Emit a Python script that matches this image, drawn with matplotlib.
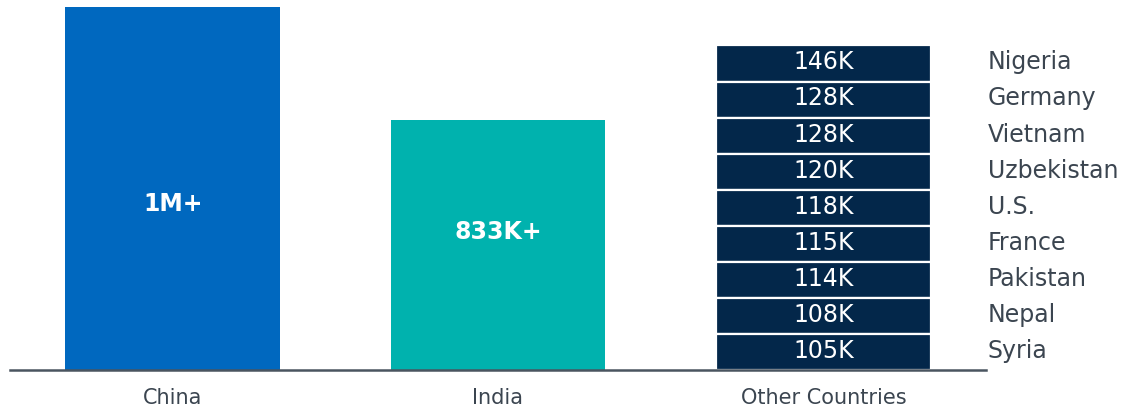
import matplotlib
matplotlib.use("Agg")
from matplotlib import pyplot as plt
import numpy as np

# data (thousands)
categories = ['China', 'India', 'Other Countries']
main_values = [1210, 833]
main_labels = ['1M+', '833K+']
main_colors = ['#0068BF', '#00B2AE']

other_countries = ['Nigeria', 'Germany', 'Vietnam', 'Uzbekistan', 'U.S.',
                   'France', 'Pakistan', 'Nepal', 'Syria']
other_values = [146, 128, 128, 120, 118, 115, 114, 108, 105]
other_color = '#03274A'
text_gray = '#3B4550'

fig = plt.figure(figsize=(11.21, 4.10), dpi=100)
ax = fig.add_axes([10 / 1121, 39 / 410, 976 / 1121, 371 / 410])

x = np.arange(len(categories))
width = 0.66

# China and India
ax.bar(x[:2], main_values, width=width, color=main_colors)
label_pos = [0.46, 0.556]
for xi, v, lab, f in zip(x[:2], main_values, main_labels, label_pos):
    ax.text(xi, v * f, lab, ha='center', va='center', color='white',
            fontsize=17, fontweight='bold')

# other countries: stacked boxes of equal height, top to bottom
total = sum(other_values)
seg = total / len(other_values)
for i, (name, v) in enumerate(zip(other_countries, other_values)):
    bottom = total - (i + 1) * seg
    ax.bar(x[2], seg, bottom=bottom, width=width, color=other_color,
           edgecolor='white', linewidth=1.6)
    yc = bottom + seg / 2 + 7
    ax.text(x[2], yc, f'{v}K', ha='center', va='center', color='white',
            fontsize=17)
    ax.text(x[2] + 0.505, yc, name, ha='left', va='center', color=text_gray,
            fontsize=17, clip_on=False)

ax.set_xlim(-0.5, 2.5)
ax.set_ylim(0, 1237)
ax.set_xticks(x)
ax.set_xticklabels(categories, fontsize=15, color=text_gray)
ax.tick_params(axis='x', length=0, pad=12)
ax.set_yticks([])
for s in ['top', 'left', 'right']:
    ax.spines[s].set_visible(False)
ax.spines['bottom'].set_color('#4A5560')
ax.spines['bottom'].set_linewidth(1.8)

plt.savefig('out.png', dpi=100)
